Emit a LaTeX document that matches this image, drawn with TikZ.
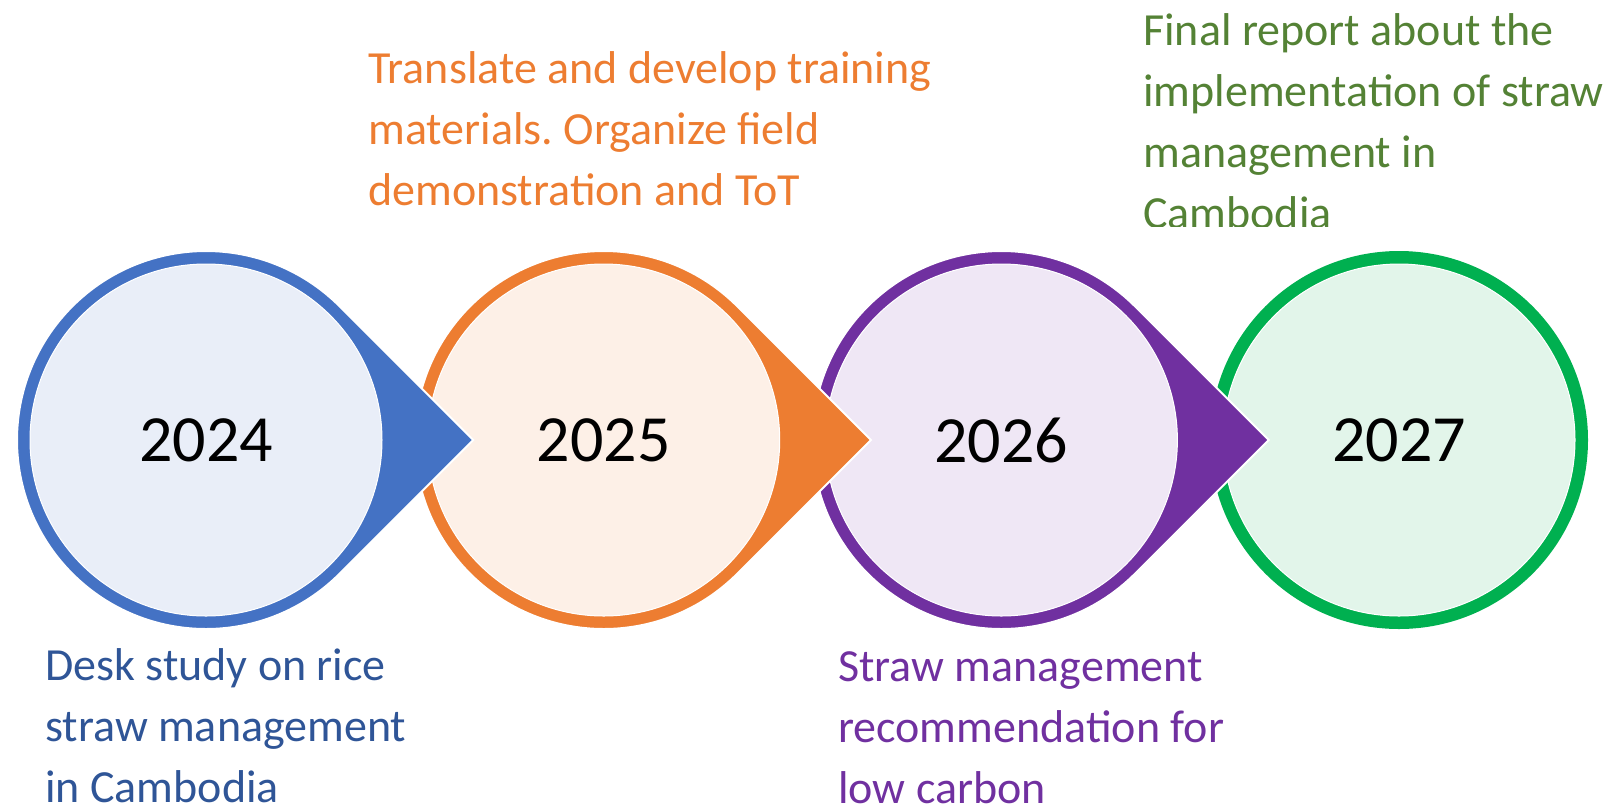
\documentclass[tikz,border=0pt]{standalone}
\usepackage{fontspec}
\setmainfont{Carlito}
\usepackage{xcolor}
\usetikzlibrary{calc,positioning}
\frenchspacing
\definecolor{tlblue}{HTML}{4472C4}
\definecolor{tlblueL}{HTML}{E9EEF8}
\definecolor{tlorange}{HTML}{ED7D31}
\definecolor{tlorangeL}{HTML}{FDF0E7}
\definecolor{tlpurple}{HTML}{7030A0}
\definecolor{tlpurpleL}{HTML}{EFE7F5}
\definecolor{tlgreen}{HTML}{00B050}
\definecolor{tlgreenL}{HTML}{E2F5EA}
\definecolor{txblue}{HTML}{2F5597}
\definecolor{txgreen}{HTML}{548235}
\tikzset{every picture/.style={x=0.75pt,y=0.75pt},
         year/.style={font=\fontsize{49.5}{50}\selectfont, text=black, inner sep=0pt},
         note/.style={font=\fontsize{34.5}{45.75}\selectfont, align=left, inner sep=0pt, anchor=base west}
        }
\begin{document}
\begin{tikzpicture}
\useasboundingbox (0,0) rectangle (1613,-808);
% centres of the years
\coordinate (c2024) at (206,-440);
\coordinate (c2025) at (603.7,-440);
\coordinate (c2026) at (1001.4,-440);
\coordinate (c2027) at (1399,-440);
% last year has no tip
\fill[tlgreen] (c2027) circle (189);
\filldraw[fill=tlgreenL, draw=white, line width=0.75pt] (c2027) circle (176);
\node[year] (y2027) at (c2027) {2027};
% drawn from right to left, each tip lies on the next circle
\foreach \yr/\col/\lt in {2026/tlpurple/tlpurpleL, 2025/tlorange/tlorangeL, 2024/tlblue/tlblueL}{
  \filldraw[fill=\col, draw=white, line width=1.5pt]
    ($(c\yr)+(267.3,0)$) -- ($(c\yr)+(45:189)$) arc[start angle=45, end angle=315, radius=189] -- cycle;
  \filldraw[fill=\lt, draw=white, line width=0.75pt] (c\yr) circle (176);
  \node[year] (y\yr) at (c\yr) {\yr};
}
% base anchor sits on the last line
\node[note, text=txblue] (t2024) at (45,-802) {Desk study on rice\\straw management\\in Cambodia};
\node[note, text=tlorange] (t2025) at (368,-205) {Translate and develop training\\materials. Organize field\\demonstration and ToT};
\node[note, text=tlpurple] (t2026) at (838,-803) {Straw management\\recommendation for\\low carbon};
\begin{scope}
\clip (1100,0) rectangle (1613,-226);
\node[note, text=txgreen] (t2027) at (1143,-228) {Final report about the\\implementation of straw\\management in\\Cambodia};
\end{scope}
\end{tikzpicture}
\end{document}
